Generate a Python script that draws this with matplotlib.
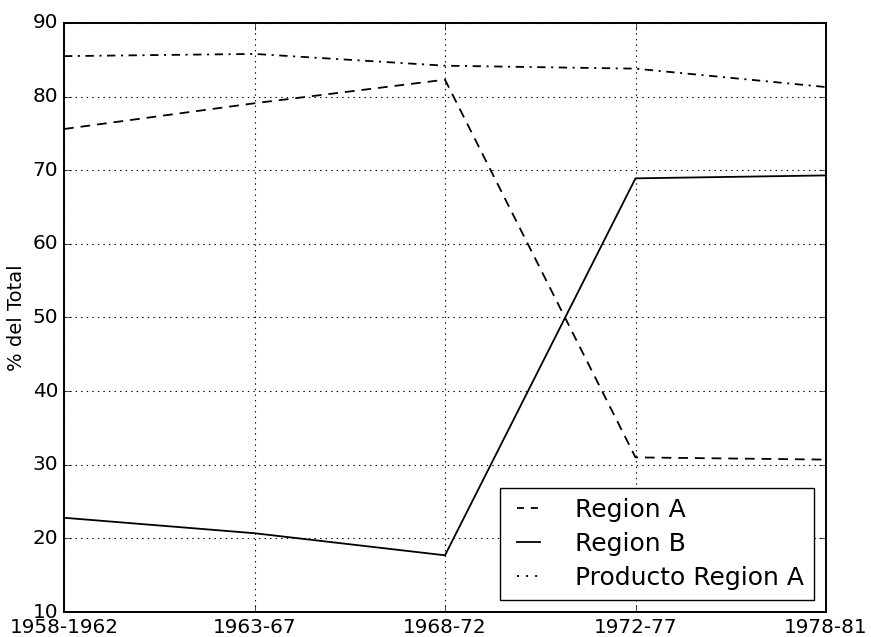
import matplotlib
matplotlib.use("Agg")
import matplotlib.pyplot as plt

# ── Datos ────────────────────────────────────────────────────────────────────
periodos = ["1958-1962", "1963-67", "1968-72", "1972-77", "1978-81"]
region_a = [75.6, 79.1, 82.3, 31.0, 30.7]
region_b = [22.8, 20.7, 17.7, 68.9, 69.3]
producto_a = [85.5, 85.8, 84.2, 83.8, 81.3]

# ── Grafico ──────────────────────────────────────────────────────────────────
plt.style.use("classic")
plt.rcParams["font.family"] = ["DejaVu Sans"]

fig = plt.figure(figsize=(8.71, 6.37), dpi=100, facecolor="white")
ax = fig.add_axes([64 / 871, 25 / 637, 762 / 871, 589 / 637])

x = range(len(periodos))
ax.plot(x, region_a, color="black", linestyle="--", dashes=(7, 5),
        linewidth=1.3, label="Region A")
ax.plot(x, region_b, color="black", linestyle="-", linewidth=1.3, label="Region B")
ax.plot(x, producto_a, color="black", linestyle="-.", dashes=(6, 4, 1.5, 4),
        linewidth=1.3, label="Producto Region A")

ax.set_xlim(0, len(periodos) - 1)
ax.set_ylim(10, 90)
ax.set_xticks(list(x))
ax.set_xticklabels(periodos)
ax.tick_params(labelsize=14.4, length=5)
ax.set_ylabel("% del Total", fontsize=14)
ax.grid(True, color="black", linestyle=":", linewidth=0.8)
for s in ax.spines.values():
    s.set_linewidth(1.4)
leg = ax.legend(loc="lower right", fontsize=18, frameon=True,
                handlelength=1.5, handletextpad=1.1, labelspacing=0.4,
                borderaxespad=0.5)
# patrones mas cortos en la leyenda, como en el original
leg.get_lines()[0].set_dashes((5, 5))
leg.get_lines()[2].set_dashes((1.5, 5))

plt.savefig("out.png", dpi=100, facecolor="white")
plt.close()
